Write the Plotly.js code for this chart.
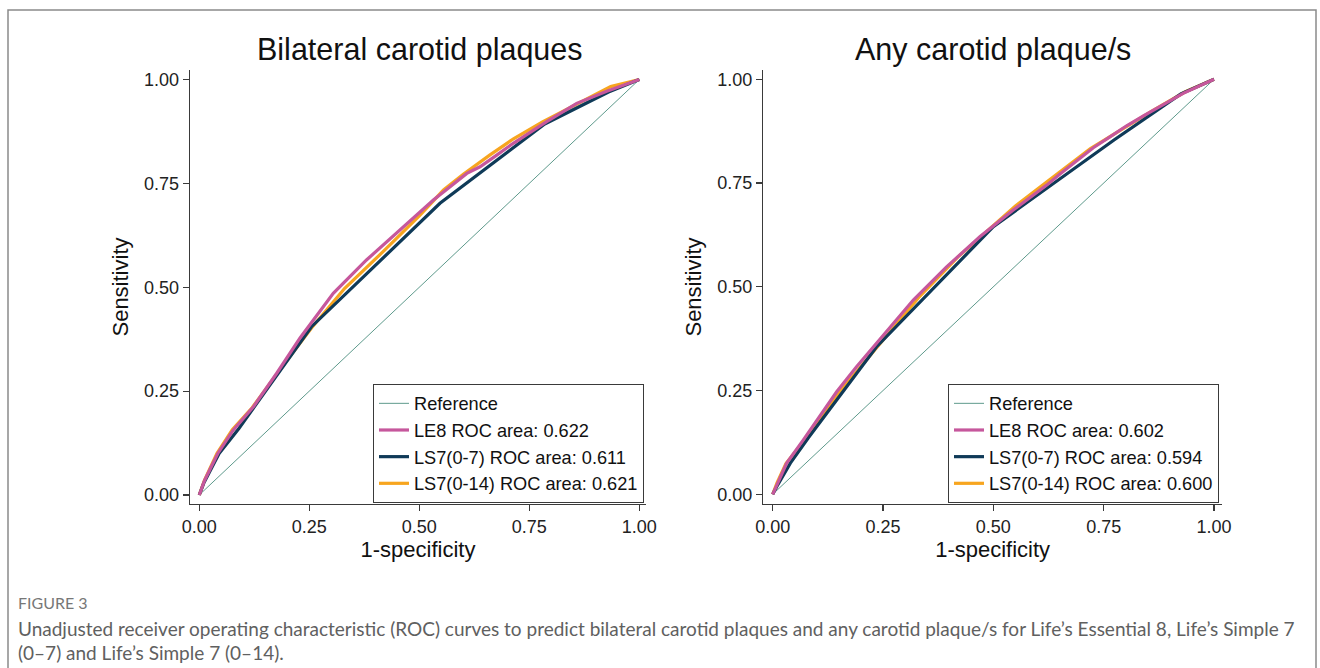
<!DOCTYPE html>
<html>
<head>
<meta charset="utf-8">
<script src="https://cdn.plot.ly/plotly-3.0.1.min.js"></script>
<style>
  html, body { margin: 0; padding: 0; background: #ffffff; }
  #chart { width: 1320px; height: 668px; }
</style>
</head>
<body>
<div id="chart"></div>
<script>
// ---------- Data ----------
const panelTitles = ["Bilateral carotid plaques", "Any carotid plaque/s"];
const xTitle = "1-specificity";
const yTitle = "Sensitivity";
const tickVals = [0, 0.25, 0.5, 0.75, 1];
const tickText = ["0.00", "0.25", "0.50", "0.75", "1.00"];

const refX = [0, 1];
const refY = [0, 1];

// Panel 1: Bilateral carotid plaques
const bilLE8X  = [0, 0.012, 0.042, 0.077, 0.123, 0.176, 0.229, 0.3045, 0.38, 0.456, 0.532, 0.608, 0.638, 0.676, 0.7136, 0.7895, 0.8577, 0.926, 1];
const bilLE8Y  = [0, 0.035, 0.100, 0.156, 0.2125, 0.293, 0.378, 0.4854, 0.5656, 0.6378, 0.710, 0.774, 0.790, 0.818, 0.8465, 0.8985, 0.9427, 0.972, 1];
const bilLS7aX = [0, 0.010, 0.045, 0.090, 0.255, 0.547, 0.785, 0.930, 1];
const bilLS7aY = [0, 0.028, 0.100, 0.160, 0.405, 0.702, 0.893, 0.970, 1];
const bilLS7bX = [0, 0.012, 0.040, 0.075, 0.120, 0.180, 0.255, 0.330, 0.420, 0.500, 0.555, 0.600, 0.660, 0.715, 0.780, 0.855, 0.935, 1];
const bilLS7bY = [0, 0.036, 0.100, 0.157, 0.210, 0.297, 0.402, 0.497, 0.588, 0.672, 0.734, 0.772, 0.818, 0.858, 0.898, 0.940, 0.983, 1];
const bilAUC = ["0.622", "0.611", "0.621"];

// Panel 2: Any carotid plaque/s
const anyLE8X  = [0, 0.012, 0.0317, 0.0695, 0.107, 0.145, 0.190, 0.236, 0.281, 0.3186, 0.394, 0.470, 0.545, 0.621, 0.651, 0.696, 0.7265, 0.765, 0.802, 0.840, 0.878, 0.930, 1];
const anyLE8Y  = [0, 0.030, 0.075, 0.131, 0.187, 0.247, 0.3075, 0.364, 0.420, 0.468, 0.548, 0.621, 0.685, 0.745, 0.772, 0.810, 0.835, 0.862, 0.888, 0.912, 0.934, 0.966, 1];
const anyLS7aX = [0, 0.010, 0.040, 0.080, 0.235, 0.500, 0.775, 0.925, 1];
const anyLS7aY = [0, 0.020, 0.075, 0.135, 0.355, 0.645, 0.855, 0.965, 1];
const anyLS7bX = [0, 0.010, 0.030, 0.070, 0.150, 0.240, 0.330, 0.420, 0.500, 0.550, 0.620, 0.660, 0.720, 0.780, 0.860, 0.935, 1];
const anyLS7bY = [0, 0.028, 0.074, 0.128, 0.245, 0.360, 0.473, 0.572, 0.648, 0.695, 0.752, 0.785, 0.833, 0.872, 0.924, 0.970, 1];
const anyAUC = ["0.602", "0.594", "0.600"];

const captionLabel = "FIGURE 3";
const captionLine1 = "Unadjusted receiver operating characteristic (ROC) curves to predict bilateral carotid plaques and any carotid plaque/s for Life\u2019s Essential 8, Life\u2019s Simple 7";
const captionLine2 = "(0\u20137) and Life\u2019s Simple 7 (0\u201314).";

// ---------- Styles ----------
const W = 1320, H = 668;
const FONT = "Liberation Sans, Arial, Helvetica, sans-serif";
const CAPFONT = "Lato, Open Sans, sans-serif";
const cRef = "#5e9a8c", cLE8 = "#c6579c", cLS7a = "#0f3a58", cLS7b = "#f7a51f";
const px = v => v / W;
const py = v => 1 - v / H;

function panelTraces(xa, ya, legendId, LE8X, LE8Y, LS7aX, LS7aY, LS7bX, LS7bY, auc) {
  return [
    {x: refX, y: refY, xaxis: xa, yaxis: ya, legend: legendId, legendrank: 1, mode: "lines",
     name: "Reference", line: {color: cRef, width: 1}, hoverinfo: "skip"},
    {x: LS7bX, y: LS7bY, xaxis: xa, yaxis: ya, legend: legendId, legendrank: 4, mode: "lines",
     name: "LS7(0-14) ROC area: " + auc[2], line: {color: cLS7b, width: 3.2}},
    {x: LS7aX, y: LS7aY, xaxis: xa, yaxis: ya, legend: legendId, legendrank: 3, mode: "lines",
     name: "LS7(0-7) ROC area: " + auc[1], line: {color: cLS7a, width: 3.2}},
    {x: LE8X, y: LE8Y, xaxis: xa, yaxis: ya, legend: legendId, legendrank: 2, mode: "lines",
     name: "LE8 ROC area: " + auc[0], line: {color: cLE8, width: 3.2}}
  ];
}

const data = [].concat(
  panelTraces("x", "y", "legend", bilLE8X, bilLE8Y, bilLS7aX, bilLS7aY, bilLS7bX, bilLS7bY, bilAUC),
  panelTraces("x2", "y2", "legend2", anyLE8X, anyLE8Y, anyLS7aX, anyLS7aY, anyLS7bX, anyLS7bY, anyAUC)
);

function xAxis(domain, range, anchor) {
  return {
    domain: domain, range: range, anchor: anchor,
    tickvals: tickVals, ticktext: tickText,
    showgrid: false, zeroline: false, showline: true, linecolor: "#3a3a3a", linewidth: 1.3,
    ticks: "outside", ticklen: 6, tickwidth: 1.2, tickcolor: "#3a3a3a",
    tickfont: {family: FONT, size: 18, color: "#222"},
    title: {text: xTitle, font: {family: FONT, size: 22, color: "#111"}, standoff: 3},
    fixedrange: true
  };
}
function yAxis(domain, range, anchor) {
  return {
    domain: domain, range: range, anchor: anchor,
    tickvals: tickVals, ticktext: tickText,
    showgrid: false, zeroline: false, showline: true, linecolor: "#3a3a3a", linewidth: 1.3,
    ticks: "outside", ticklen: 6, tickwidth: 1.2, tickcolor: "#3a3a3a",
    tickfont: {family: FONT, size: 18, color: "#222"},
    title: {text: yTitle, font: {family: FONT, size: 22, color: "#111"}, standoff: 9},
    fixedrange: true
  };
}

const yDom = [py(504), py(70)];
const legendStyle = (xr) => ({
  x: px(xr), xanchor: "right", y: py(503), yanchor: "bottom",
  bgcolor: "#ffffff", bordercolor: "#3a3a3a", borderwidth: 1,
  font: {family: FONT, size: 18.2, color: "#111"},
  tracegroupgap: 0, traceorder: "normal"
});

const layout = {
  width: W, height: H,
  margin: {l: 0, r: 0, t: 0, b: 0},
  paper_bgcolor: "#ffffff", plot_bgcolor: "#ffffff",
  showlegend: true,
  xaxis:  xAxis([px(190), px(646)], [-0.0211, 1.0152], "y"),
  yaxis:  yAxis(yDom, [-0.0217, 1.0229], "x"),
  xaxis2: xAxis([px(763.3), px(1222)], [-0.0213, 1.0181], "y2"),
  yaxis2: yAxis(yDom, [-0.0234, 1.0224], "x2"),
  legend: legendStyle(644),
  legend2: legendStyle(1219),
  shapes: [
    {type: "rect", xref: "paper", yref: "paper", x0: px(8), x1: px(1316), y0: -0.2, y1: py(10),
     line: {color: "#8a8a8a", width: 1.5}, fillcolor: "rgba(0,0,0,0)", layer: "below"}
  ],
  annotations: [
    {text: panelTitles[0], xref: "paper", yref: "paper", x: px(420), y: py(50), xanchor: "center", yanchor: "middle",
     showarrow: false, font: {family: FONT, size: 30.5, color: "#111"}},
    {text: panelTitles[1], xref: "paper", yref: "paper", x: px(993), y: py(50), xanchor: "center", yanchor: "middle",
     showarrow: false, font: {family: FONT, size: 30.5, color: "#111"}},
    {text: captionLabel, xref: "paper", yref: "paper", x: px(16), y: py(602), xanchor: "left", yanchor: "middle",
     showarrow: false, font: {family: CAPFONT, size: 16, color: "#777"}},
    {text: captionLine1, xref: "paper", yref: "paper", x: px(16), y: py(628), xanchor: "left", yanchor: "middle",
     showarrow: false, font: {family: CAPFONT, size: 19, color: "#606060"}},
    {text: captionLine2, xref: "paper", yref: "paper", x: px(16), y: py(652), xanchor: "left", yanchor: "middle",
     showarrow: false, font: {family: CAPFONT, size: 19, color: "#606060"}}
  ]
};

Plotly.newPlot("chart", data, layout, {displayModeBar: false, staticPlot: true});
</script>
</body>
</html>
